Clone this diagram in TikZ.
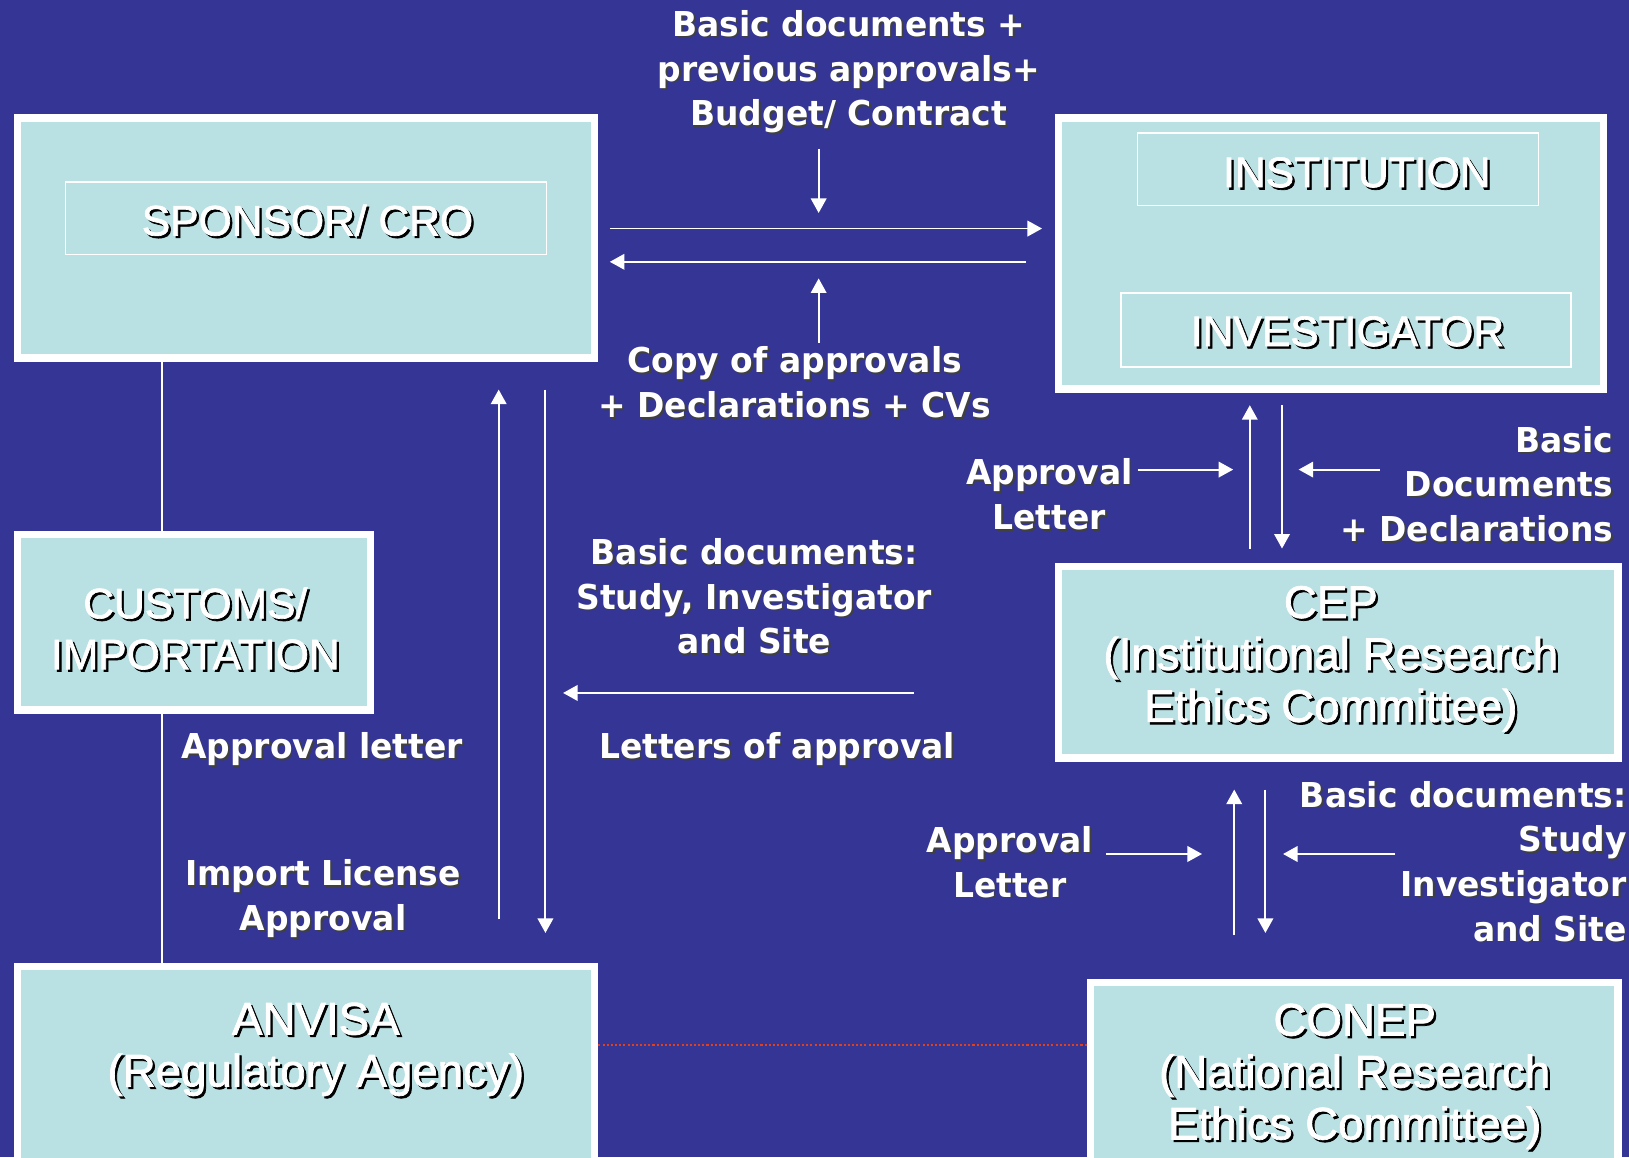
\documentclass[tikz,border=0pt]{standalone}
\usepackage{fontspec}
\setmainfont{Liberation Sans}
\newfontfamily\boxfont[FakeBold=1.6]{Liberation Sans}
\newfontfamily\lblfont[FakeStretch=0.96]{DejaVu Sans}
\usetikzlibrary{arrows.meta}
\definecolor{bgblue}{HTML}{343594}
\definecolor{boxcyan}{HTML}{B9E0E3}
\definecolor{dotred}{HTML}{E2401C}
\tikzset{
  bigbox/.style={draw=white, line width=7pt, fill=boxcyan, inner sep=0pt},
  innerbox/.style={draw=white, line width=1.5pt, inner sep=0pt},
  flow/.style={draw=white, line width=1.8pt, -{Triangle[length=14pt,width=15pt]}},
  plainline/.style={draw=white, line width=2pt},
  redline/.style={draw=dotred, line width=1.5pt, dash pattern=on 2pt off 2pt},
  capstxt/.style={font=\boxfont\fontsize{41}{49}\selectfont, text=white, align=center, inner sep=0pt},
  mixtxt/.style={font=\boxfont\fontsize{44}{50}\selectfont, text=white, align=center, inner sep=0pt},
  lbl/.style={font=\lblfont\bfseries\fontsize{33}{43}\selectfont, text=white, align=center, inner sep=0pt},
  lblr/.style={lbl, align=right, anchor=east}
}
\newcommand\ShTxt[6]{%
  \node[#1, text=#3, xshift=#2, yshift=-#2] (#4sh) at (#5) {#6};
  \node[#1] (#4) at (#5) {#6};}
\begin{document}
\begin{tikzpicture}[x=1pt,y=-1pt]
\clip (0,0) rectangle (1568,1114);
\fill[bgblue] (0,0) rectangle (1568,1114);

% helper coordinates
\coordinate (lx) at (156,0);
\coordinate (ry) at (0,1006);

% main boxes
\node[bigbox, minimum width=556pt, minimum height=231pt] (sponsor) at (294.5,229) {};
\node[bigbox, minimum width=525pt, minimum height=261pt] (institution) at (1281,244) {};
\node[bigbox, minimum width=340pt, minimum height=169pt] (customs) at (186.5,599) {};
\node[bigbox, minimum width=539pt, minimum height=184pt] (cep) at (1288,637.5) {};
\node[bigbox, minimum width=556pt, minimum height=210pt] (anvisa) at (294.5,1035) {};
\node[bigbox, minimum width=508pt, minimum height=195pt] (conep) at (1303.5,1043) {};

\draw[plainline] (sponsor.south -| lx) -- (customs.north -| lx);
\draw[plainline] (customs.south -| lx) -- (anvisa.north -| lx);
\draw[redline] (anvisa.east |- ry) -- (conep.west |- ry);

% inner label frames
\node[innerbox, minimum width=463pt, minimum height=70pt] (sponsorfr) at (294.5,210) {};
\node[innerbox, minimum width=386pt, minimum height=70pt] (instfr) at (1288,163) {};
\node[innerbox, minimum width=433pt, minimum height=71pt] (invfr) at (1295.5,317.5) {};

% box texts
\ShTxt{capstxt}{2.2pt}{black}{sponsortxt}{296,212}{SPONSOR/ CRO}
\ShTxt{capstxt}{2.2pt}{black}{insttxt}{1306,166}{INSTITUTION}
\ShTxt{capstxt}{2.2pt}{black}{invtxt}{1297,319}{INVESTIGATOR}
\ShTxt{capstxt}{2.2pt}{black}{customstxt}{188,605}{CUSTOMS/\\IMPORTATION}
\ShTxt{mixtxt}{2.2pt}{black}{ceptxt}{1281,634}{CEP\\(Institutional Research\\Ethics Committee)}
\ShTxt{mixtxt}{2.2pt}{black}{anvisatxt}{304,1010}{ANVISA\\(Regulatory Agency)}
\ShTxt{mixtxt}{2.2pt}{black}{coneptxt}{1304,1036}{CONEP\\(National Research\\Ethics Committee)}

% labels
\ShTxt{lbl}{1.5pt}{black!75}{l1}{817,69}{Basic documents +\\previous approvals+\\Budget/ Contract}
\ShTxt{lbl}{1.5pt}{black!75}{l2}{765,368}{Copy of approvals\\+ Declarations + CVs}
\ShTxt{lbl}{1.5pt}{black!75}{l3}{1010,476}{Approval\\Letter}
\ShTxt{lblr}{1.5pt}{black!75}{l4}{1553,466}{Basic\\Documents\\+ Declarations}
\ShTxt{lbl}{1.5pt}{black!75}{l5}{726,574}{Basic documents:\\Study, Investigator\\and Site}
\ShTxt{lbl}{1.5pt}{black!75}{l6}{748,721}{Letters of approval}
\ShTxt{lbl}{1.5pt}{black!75}{l7}{310,721}{Approval letter}
\ShTxt{lbl}{1.5pt}{black!75}{l8}{311,865}{Import License\\Approval}
\ShTxt{lbl}{1.5pt}{black!75}{l9}{972,830}{Approval\\Letter}
\ShTxt{lblr}{1.5pt}{black!75}{l10}{1566,829}{Basic documents:\\Study\\Investigator\\and Site}

% arrows
\coordinate (a1s) at (788,143);  \coordinate (a1e) at (788,205);
\coordinate (a2s) at (587,220);  \coordinate (a2e) at (1003,220);
\coordinate (a3s) at (988,252);  \coordinate (a3e) at (587,252);
\coordinate (a4s) at (788,330);  \coordinate (a4e) at (788,268);
\coordinate (a5s) at (480,885);  \coordinate (a5e) at (480,375);
\coordinate (a6s) at (525,375);  \coordinate (a6e) at (525,898);
\coordinate (a7s) at (880,667);  \coordinate (a7e) at (542,667);
\coordinate (a8s) at (1203,528); \coordinate (a8e) at (1203,390);
\coordinate (a9s) at (1234,390); \coordinate (a9e) at (1234,528);
\coordinate (a10s) at (1095,452); \coordinate (a10e) at (1187,452);
\coordinate (a11s) at (1328,452); \coordinate (a11e) at (1250,452);
\coordinate (a12s) at (1188,900); \coordinate (a12e) at (1188,760);
\coordinate (a13s) at (1218,760); \coordinate (a13e) at (1218,898);
\coordinate (a14s) at (1065,822); \coordinate (a14e) at (1157,822);
\coordinate (a15s) at (1343,822); \coordinate (a15e) at (1235,822);
\foreach \i in {1,...,15} {\draw[flow] (a\i s) -- (a\i e);}
\end{tikzpicture}
\end{document}
